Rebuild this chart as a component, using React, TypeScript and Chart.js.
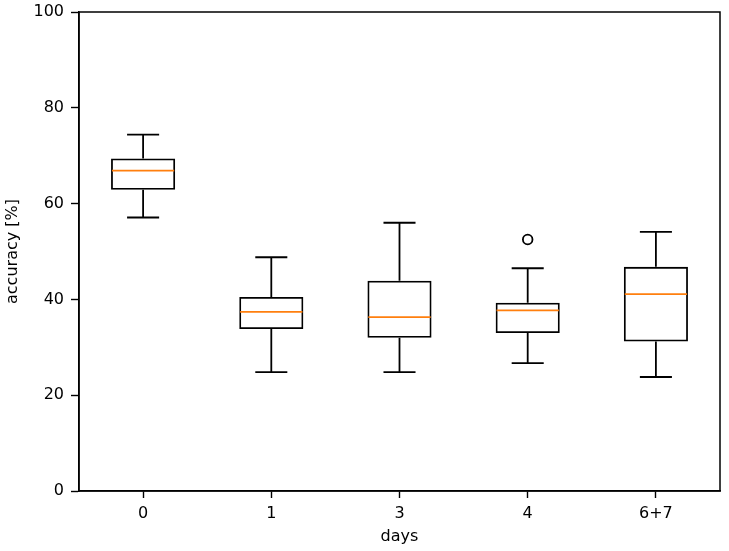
import React, { useEffect, useRef } from "react";
import { Chart, registerables } from "chart.js";

Chart.register(...registerables);

const categories = ["0", "1", "3", "4", "6+7"];
const whiskerLow = [57.1, 24.8, 24.8, 26.7, 23.8];
const q1 = [62.9, 33.8, 32.0, 33.0, 31.2];
const medians = [66.9, 37.4, 36.3, 37.7, 41.1];
const q3 = [69.4, 40.5, 43.9, 39.3, 46.8];
const whiskerHigh = [74.4, 48.8, 56.0, 46.5, 54.1];
const outliers: (number | null)[] = [null, null, null, 52.5, null];
const yMin = 0;
const yMax = 100;
const yStep = 20;

const FONT = "'DejaVu Sans', sans-serif";
const LW = 1.8;

const boxPlugin = {
  id: "boxExtras",
  afterDatasetsDraw(chart: any) {
    const { ctx, scales, chartArea } = chart;
    const xs = scales.x;
    const ys = scales.y;
    const catW = xs.width / categories.length;
    const boxHalf = catW * 0.25;
    const capHalf = catW * 0.125;
    ctx.save();
    ctx.lineWidth = LW;
    ctx.strokeStyle = "#000";
    categories.forEach((_, i) => {
      const x = xs.getPixelForValue(i);
      const yl = ys.getPixelForValue(whiskerLow[i]);
      const y1 = ys.getPixelForValue(q1[i]);
      const y3 = ys.getPixelForValue(q3[i]);
      const yh = ys.getPixelForValue(whiskerHigh[i]);
      ctx.beginPath();
      ctx.moveTo(x, y1);
      ctx.lineTo(x, yl);
      ctx.moveTo(x - capHalf, yl);
      ctx.lineTo(x + capHalf, yl);
      ctx.moveTo(x, y3);
      ctx.lineTo(x, yh);
      ctx.moveTo(x - capHalf, yh);
      ctx.lineTo(x + capHalf, yh);
      ctx.stroke();
    });
    ctx.strokeStyle = "#ff7f0e";
    categories.forEach((_, i) => {
      const x = xs.getPixelForValue(i);
      const ym = ys.getPixelForValue(medians[i]);
      ctx.beginPath();
      ctx.moveTo(x - boxHalf + LW / 2, ym);
      ctx.lineTo(x + boxHalf - LW / 2, ym);
      ctx.stroke();
    });
    ctx.strokeStyle = "#000";
    ctx.lineWidth = 1.5;
    ctx.strokeRect(
      chartArea.left,
      chartArea.top,
      chartArea.right - chartArea.left,
      chartArea.bottom - chartArea.top
    );
    ctx.restore();
  },
};

export default function App() {
  const ref = useRef<HTMLCanvasElement | null>(null);
  useEffect(() => {
    if (!ref.current) return;
    const chart = new Chart(ref.current, {
      type: "bar",
      data: {
        labels: categories,
        datasets: [
          {
            type: "bar",
            data: q1.map((v, i) => [v, q3[i]]) as any,
            backgroundColor: "rgba(0,0,0,0)",
            borderColor: "#000",
            borderWidth: LW,
            borderSkipped: false,
            barPercentage: 0.5,
            categoryPercentage: 1.0,
          },
          {
            type: "line",
            data: outliers as any,
            showLine: false,
            pointRadius: 4.8,
            pointBorderWidth: LW,
            pointBorderColor: "#000",
            pointBackgroundColor: "rgba(0,0,0,0)",
          } as any,
        ],
      },
      options: {
        responsive: false,
        animation: false,
        layout: { padding: { top: 12, right: 9, left: 0, bottom: 0 } },
        plugins: { legend: { display: false }, tooltip: { enabled: false } },
        scales: {
          x: {
            type: "category",
            offset: true,
            grid: {
              display: true,
              drawOnChartArea: false,
              drawTicks: true,
              tickLength: 7,
              tickColor: "#000",
              tickWidth: 1.4,
              offset: false,
            },
            border: { display: true, color: "#000", width: 1.5 },
            ticks: { color: "#000", font: { family: FONT, size: 16 }, padding: 6 },
            title: {
              display: true,
              text: "days",
              color: "#000",
              font: { family: FONT, size: 16 },
              padding: { top: 2, bottom: 4.5 },
            },
            afterFit(scale: any) {
              scale.height = 60;
            },
          },
          y: {
            min: yMin,
            max: yMax,
            ticks: {
              stepSize: yStep,
              color: "#000",
              font: { family: FONT, size: 16 },
              padding: 7,
            },
            grid: {
              display: true,
              drawOnChartArea: false,
              drawTicks: true,
              tickLength: 8,
              tickColor: "#000",
              tickWidth: 1.4,
            },
            border: { display: true, color: "#000", width: 1.5 },
            title: {
              display: true,
              text: "accuracy [%]",
              color: "#000",
              font: { family: FONT, size: 16 },
              padding: { top: 3.5, bottom: 4 },
            },
            afterFit(scale: any) {
              scale.width = 79;
              scale.paddingTop = 0;
              scale.paddingBottom = 0;
            },
          },
        },
      },
      plugins: [boxPlugin],
    });
    return () => chart.destroy();
  }, []);
  return (
    <div style={{ position: "absolute", left: 0, top: 0, width: 729, height: 551, background: "#fff" }}>
      <canvas ref={ref} width={729} height={551} style={{ width: 729, height: 551 }} />
    </div>
  );
}
